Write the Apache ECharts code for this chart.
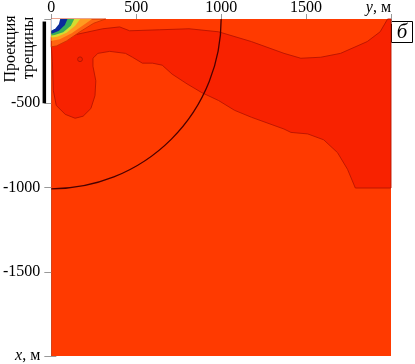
<!DOCTYPE html>
<html><head><meta charset="utf-8">
<script src="https://cdn.jsdelivr.net/npm/echarts@6/dist/echarts.min.js"></script>
<style>html,body{margin:0;padding:0;background:#fff}#c{width:415px;height:364px}</style>
</head><body><div id="c"></div>
<script>
// Axis domains (data units, metres)
const domainY = [0, 2000];      // horizontal axis "y, м"
const domainX = [-2000, 0];     // vertical axis "x, м"
const tickStep = [500];
// Circle of radius 1000 m around the origin
const arcRadius = [1000];
// Crack projection along x (m)
const crackX = [-15, -500];
// Tiny closed contour: [y, x, radius]
const smallRing = [169, -239, 14];

// Contour regions, vertices as [y, x] in metres
const redRegion = [[0,-105],[41,-117],[169,-87],[303,-58],[402,-47],[461,-70],[636,-64],[811,-58],[985,-76],
  [1178,-134],[1370,-204],[1469,-233],[1586,-227],[1703,-204],[1860,-134],[1936,-76],[1980,0],[2000,0],
  [2000,-1003],[1790,-1003],[1744,-892],[1685,-793],[1604,-717],[1510,-682],[1411,-673],[1370,-653],
  [1178,-583],[1079,-542],[985,-484],[886,-437],[799,-385],[711,-327],[653,-274],[595,-262],[536,-262],
  [478,-227],[437,-204],[344,-192],[274,-204],[245,-233],[245,-280],[262,-367],[257,-455],[233,-531],
  [187,-577],[140,-589],[82,-566],[29,-513],[12,-426],[6,-251],[0,-163]];
const bandOrange = [[0,0],[320,0],[250,-25],[170,-75],[90,-130],[30,-160],[0,-165]];
const bandAmber = [[0,0],[240,0],[190,-35],[120,-85],[50,-120],[0,-130]];
const bandYellow = [[0,0],[170,0],[140,-40],[90,-82],[35,-105],[0,-110]];
const bandGreen = [[0,0],[135,0],[115,-40],[70,-78],[20,-95],[0,-98]];
const bandBlue = [[0,0],[95,0],[80,-35],[45,-70],[10,-85],[0,-88]];
const bandWhite = [[0,0],[52,0],[45,-30],[25,-55],[0,-70]];
const baseRegion = [[domainY[0],domainX[1]],[domainY[1],domainX[1]],[domainY[1],domainX[0]],[domainY[0],domainX[0]]];

const regions = [
  {pts: baseRegion, fill: '#ff3a00', stroke: null},
  {pts: redRegion, fill: '#f82200', stroke: '#b81400'},
  {pts: bandOrange, fill: '#ff6410', stroke: '#d03000'},
  {pts: bandAmber, fill: '#ff9a20', stroke: null},
  {pts: bandYellow, fill: '#d4dc30', stroke: null},
  {pts: bandGreen, fill: '#38b058', stroke: null},
  {pts: bandBlue, fill: '#0a2a9c', stroke: null},
  {pts: bandWhite, fill: '#ffffff', stroke: null}
];

const font = 'Liberation Serif';
const chart = echarts.init(document.getElementById('c'), null, {renderer: 'canvas'});
const tickStyle = {show: true, inside: false, length: 5, lineStyle: {color: '#999', width: 1}};
const edgeLine = {show: true, lineStyle: {color: '#7a5a50', width: 1}};

chart.setOption({
  animation: false,
  backgroundColor: '#fff',
  grid: {left: 48, top: 17, width: 343, height: 343},
  xAxis: [{
    type: 'value', position: 'top', min: domainY[0], max: domainY[1], interval: tickStep[0],
    axisLine: {show: false}, splitLine: {show: false}, axisTick: tickStyle,
    axisLabel: {
      margin: 3, color: '#000', fontFamily: font, fontSize: 16, alignMaxLabel: 'right',
      formatter: v => v === domainY[1] ? '{i|y}, м' : String(v),
      rich: {i: {fontStyle: 'italic', fontFamily: font, fontSize: 16, color: '#000'}}
    }
  }, {
    type: 'value', position: 'bottom', min: domainY[0], max: domainY[1], interval: tickStep[0],
    axisLine: {show: false}, splitLine: {show: false}, axisTick: tickStyle, axisLabel: {show: false}
  }],
  yAxis: [{
    type: 'value', position: 'left', min: domainX[0], max: domainX[1], interval: tickStep[0],
    axisLine: edgeLine, splitLine: {show: false}, axisTick: {...tickStyle, length: 7},
    axisLabel: {
      margin: 11, color: '#000', fontFamily: font, fontSize: 16,
      formatter: v => v === domainX[1] ? '' : (v === domainX[0] ? '{i|x}, м' : String(v)),
      rich: {i: {fontStyle: 'italic', fontFamily: font, fontSize: 16, color: '#000'}}
    }
  }, {
    type: 'value', position: 'right', min: domainX[0], max: domainX[1], interval: tickStep[0],
    axisLine: edgeLine, splitLine: {show: false}, axisTick: tickStyle, axisLabel: {show: false}
  }],
  series: [{
    type: 'custom', xAxisIndex: 0, yAxisIndex: 0, silent: true, z: 1,
    data: regions.map((r, i) => [0, 0, i]),
    renderItem: (params, api) => {
      const r = regions[params.dataIndex];
      const points = r.pts.map(p => api.coord(p));
      return {
        type: 'polygon', shape: {points},
        style: {fill: r.fill, stroke: r.stroke || null, lineWidth: r.stroke ? 0.9 : 0}
      };
    }
  }, {
    type: 'custom', xAxisIndex: 0, yAxisIndex: 0, silent: true, z: 2,
    data: [[smallRing[0], smallRing[1]]],
    renderItem: (params, api) => {
      const c = api.coord([smallRing[0], smallRing[1]]);
      const r = api.size([smallRing[2], 0])[0];
      return {type: 'circle', shape: {cx: c[0], cy: c[1], r},
        style: {fill: '#f02000', stroke: '#b01400', lineWidth: 0.9}};
    }
  }, {
    type: 'custom', xAxisIndex: 0, yAxisIndex: 0, silent: true, z: 3,
    data: [[0, 0]],
    renderItem: (params, api) => {
      const c = api.coord([0, 0]);
      const r = api.size([arcRadius[0], 0])[0];
      return {type: 'arc', shape: {cx: c[0], cy: c[1], r, startAngle: 0, endAngle: Math.PI / 2, clockwise: true},
        style: {stroke: '#4a0000', fill: null, lineWidth: 1.3}};
    }
  }, {
    type: 'custom', xAxisIndex: 0, yAxisIndex: 0, silent: true, clip: false, z: 3,
    data: [[0, crackX[0]]],
    renderItem: (params, api) => {
      const a = api.coord([0, crackX[0]]);
      const b = api.coord([0, crackX[1]]);
      return {type: 'line', shape: {x1: a[0] - 7, y1: a[1], x2: b[0] - 7, y2: b[1]},
        style: {stroke: '#000', lineWidth: 3.5}};
    }
  }],
  graphic: [
    {type: 'text', x: 11, y: 49, rotation: Math.PI / 2,
      style: {text: 'Проекция', font: '16px "Liberation Serif"', fill: '#000', align: 'center', verticalAlign: 'middle'}},
    {type: 'text', x: 29, y: 48, rotation: Math.PI / 2,
      style: {text: 'трещины', font: '16px "Liberation Serif"', fill: '#000', align: 'center', verticalAlign: 'middle'}},
    {type: 'rect', shape: {x: 391.5, y: 21.5, width: 21, height: 21},
      style: {fill: '#fff', stroke: '#000', lineWidth: 1}},
    {type: 'text', x: 402, y: 32,
      style: {text: 'б', font: 'italic 21px "Liberation Serif"', fill: '#000', align: 'center', verticalAlign: 'middle'}}
  ]
});
</script></body></html>
